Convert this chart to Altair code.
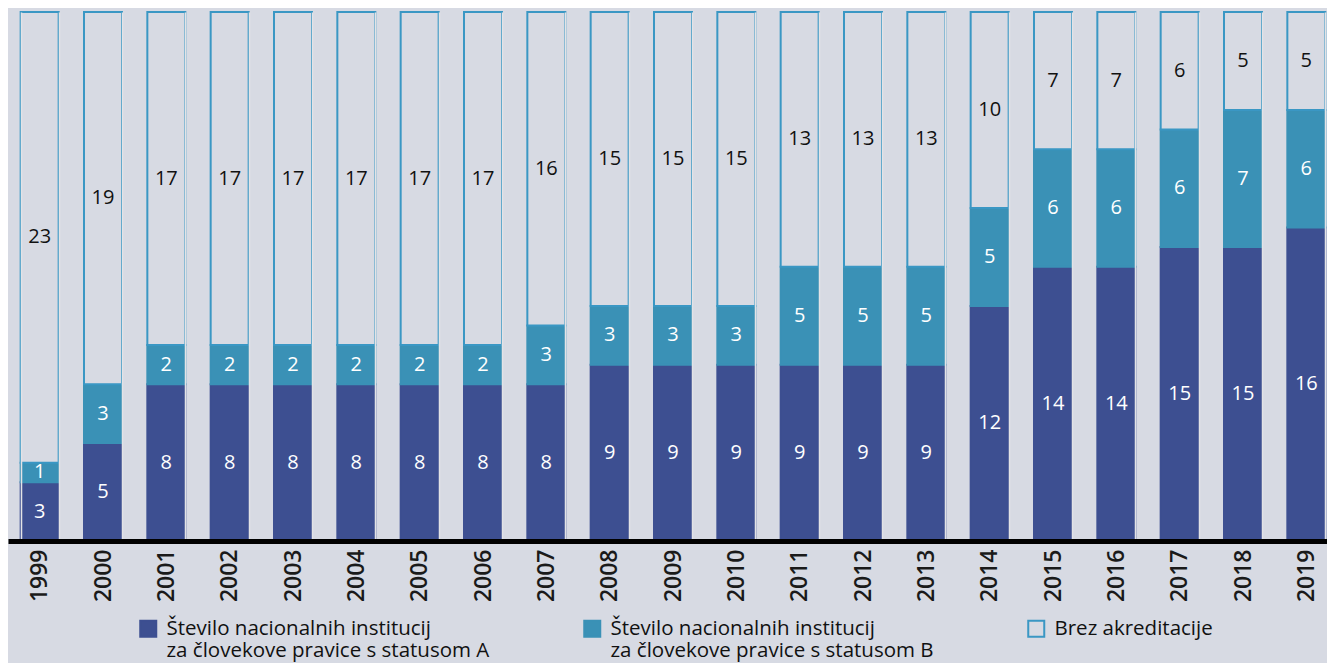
import altair as alt
import pandas as pd

FONT = "Open Sans"

years = [str(y) for y in range(1999, 2020)]
status_a = [3, 5, 8, 8, 8, 8, 8, 8, 8, 9, 9, 9, 9, 9, 9, 12, 14, 14, 15, 15, 16]
status_b = [1, 3, 2, 2, 2, 2, 2, 2, 3, 3, 3, 3, 5, 5, 5, 5, 6, 6, 6, 7, 6]
no_accr = [23, 19, 17, 17, 17, 17, 17, 17, 16, 15, 15, 15, 13, 13, 13, 10, 7, 7, 6, 5, 5]

categories = [
    "Število nacionalnih institucij|za človekove pravice s statusom A",
    "Število nacionalnih institucij|za človekove pravice s statusom B",
    "Brez akreditacije| ",
]
fills = ["#3d4f91", "#3a91b6", "#d7dae3"]
strokes = ["#3d4f91", "#3a91b6", "#3a97c4"]

rows = []
for i, y in enumerate(years):
    for k, vals in enumerate([status_a, status_b, no_accr]):
        rows.append({"year": y, "cat": categories[k], "value": vals[i], "order": k})
df = pd.DataFrame(rows)

legend = alt.Legend(
    title=None,
    orient="none",
    legendX=130,
    legendY=606,
    direction="horizontal",
    columns=3,
    columnPadding=90,
    symbolType="square",
    symbolSize=256,
    symbolStrokeWidth=2,
    labelFont=FONT,
    labelFontSize=20.5,
    labelColor="#111111",
    labelLimit=0,
    labelOffset=8,
    labelExpr="split(datum.label, '|')",
)

x_enc = alt.X(
    "year:N",
    sort=years,
    scale=alt.Scale(paddingInner=0.4, paddingOuter=0.2),
    axis=alt.Axis(
        title=None,
        labelAngle=270,
        labelFont=FONT,
        labelFontSize=23,
        labelFontWeight=600,
        labelColor="#1a1a1a",
        labelPadding=8,
        ticks=False,
        grid=True,
        gridColor="#e3e3e6",
        gridWidth=1.5,
        tickBand="extent",
        domainColor="#000000",
        domainWidth=5,
        zindex=1,
    ),
)

base = alt.Chart(df)

bars = base.mark_bar(strokeWidth=2).encode(
    x=x_enc,
    y=alt.Y("value:Q", stack="zero", scale=alt.Scale(domain=[0, 27], nice=False), axis=None),
    fill=alt.Fill("cat:N", scale=alt.Scale(domain=categories, range=fills), legend=legend),
    stroke=alt.Stroke("cat:N", scale=alt.Scale(domain=categories, range=strokes), legend=legend),
    order=alt.Order("order:Q"),
)

text = (
    base.transform_stack(
        stack="value", groupby=["year"], as_=["y0", "y1"], sort=[alt.SortField("order")]
    )
    .transform_calculate(mid="(datum.y0 + datum.y1) / 2")
    .mark_text(font=FONT, fontSize=20)
    .encode(
        x=alt.X("year:N", sort=years),
        y=alt.Y("mid:Q"),
        text=alt.Text("value:Q"),
        color=alt.condition("datum.order == 2", alt.value("#111111"), alt.value("#ffffff")),
    )
)

chart = (
    alt.layer(bars, text)
    .properties(
        width=1330,
        height=529,
        padding={"left": 0, "top": 4, "right": -11, "bottom": 122},
        autosize=alt.AutoSizeParams(type="none"),
    )
    .configure(background="#d7dae3")
    .configure_view(stroke=None)
)

chart.save("out.html", embed_options={"renderer": "svg", "actions": False})
